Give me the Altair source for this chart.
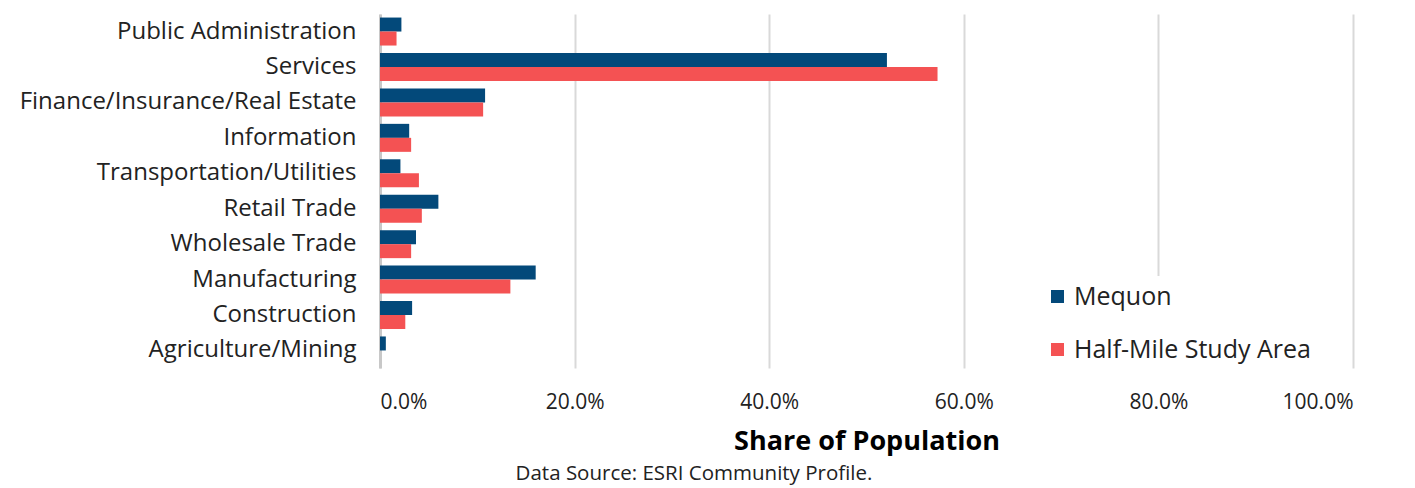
import altair as alt
import pandas as pd

industries = [
    "Public Administration",
    "Services",
    "Finance/Insurance/Real Estate",
    "Information",
    "Transportation/Utilities",
    "Retail Trade",
    "Wholesale Trade",
    "Manufacturing",
    "Construction",
    "Agriculture/Mining",
]
mequon = [0.022, 0.521, 0.108, 0.030, 0.021, 0.060, 0.037, 0.160, 0.033, 0.006]
study_area = [0.017, 0.573, 0.106, 0.032, 0.040, 0.043, 0.032, 0.134, 0.026, 0.000]
series = ["Mequon", "Half-Mile Study Area"]
colors = ["#03497A", "#F45253"]

FONT = "Open Sans"

rows = []
for name, a, b in zip(industries, mequon, study_area):
    rows.append({"industry": name, "series": series[0], "share": a})
    rows.append({"industry": name, "series": series[1], "share": b})
df = pd.DataFrame(rows)

bars = alt.Chart(df).mark_bar().encode(
    x=alt.X(
        "share:Q",
        scale=alt.Scale(domain=[0, 1], nice=False),
        axis=alt.Axis(
            values=[0, 0.2, 0.4, 0.6, 0.8, 1.0],
            format=".1%",
            title="Share of Population",
            titleFont=FONT,
            titleFontSize=27,
            titleFontWeight="bold",
            titleColor="#000000",
            titlePadding=16,
            labelFont=FONT,
            labelFontSize=21,
            labelColor="#222222",
            labelPadding=23,
            domain=False,
            ticks=False,
            grid=True,
            gridColor="#d9d9d9",
            gridWidth=2,
        ),
    ),
    y=alt.Y(
        "industry:N",
        sort=industries,
        scale=alt.Scale(paddingInner=0.21, paddingOuter=0.1),
        axis=alt.Axis(
            title=None,
            labelFont=FONT,
            labelFontSize=24,
            labelColor="#222222",
            labelPadding=24,
            labelLimit=500,
            ticks=False,
            domain=True,
            domainColor="#c8c8c8",
            domainWidth=3,
        ),
    ),
    yOffset=alt.YOffset("series:N", sort=series),
    color=alt.Color(
        "series:N",
        sort=series,
        scale=alt.Scale(domain=series, range=colors),
        legend=alt.Legend(
            title=None,
            orient="none",
            legendX=657,
            legendY=262,
            fillColor="white",
            padding=8,
            symbolType="square",
            symbolSize=170,
            symbolStrokeWidth=0,
            labelFont=FONT,
            labelFontSize=25,
            labelColor="#222222",
            labelOffset=4,
            labelLimit=500,
            rowPadding=27,
        ),
    ),
)

source = alt.Chart(pd.DataFrame({"t": ["Data Source: ESRI Community Profile."]})).mark_text(
    font=FONT, fontSize=20.5, color="#222222", align="center", baseline="middle"
).encode(text="t:N", x=alt.value(314), y=alt.value(460))

chart = (
    alt.layer(bars, source)
    .properties(width=973, height=354, padding={"left": 19, "top": 14, "right": 10, "bottom": 0})
    .configure_view(stroke=None)
)

chart.save("out.html", embed_options={"renderer": "svg", "actions": False})
